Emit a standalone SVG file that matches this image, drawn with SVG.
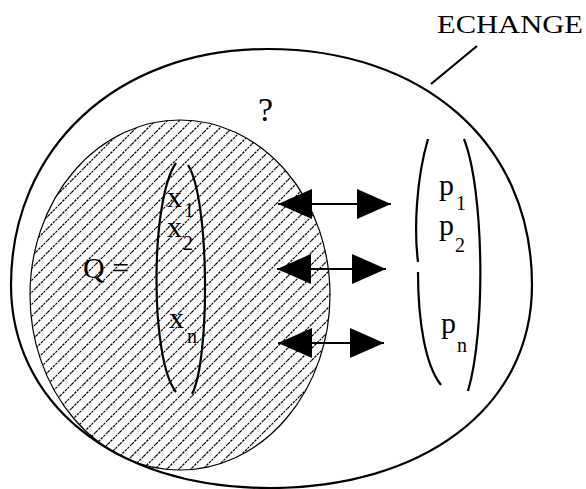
<svg xmlns="http://www.w3.org/2000/svg" width="586" height="489" viewBox="0 0 586 489">
<style>
.ln{fill:none;stroke:#000;stroke-width:2.2}
.t{font-family:"Liberation Serif","Times New Roman",serif;fill:#000}
.big{font-size:30px}
.sub{font-size:20px}
</style>
<defs>
<pattern id="hatch" patternUnits="userSpaceOnUse" width="12" height="12">
<path d="M-3,3 L3,-3 M0,12 L12,0 M9,15 L15,9" stroke="#000" stroke-width="1.2" stroke-dasharray="2.5 1"/>
</pattern>
<marker id="ah" viewBox="0 0 34 30" refX="34" refY="15" markerWidth="34" markerHeight="30" markerUnits="userSpaceOnUse" orient="auto-start-reverse">
<path d="M0,0 L34,15 L0,30 Z" fill="#000"/>
</marker>
</defs>
<g id="echange">
<path class="ln" d="M268,49 C420,49 532,140 532,285 C532,410 420,488 270,488 C110,488 11,400 11,285 C11,150 115,49 268,49 Z"/>
<line class="ln" x1="431" y1="84" x2="477" y2="46"/>
<text class="t" x="437" y="33" font-size="25" textLength="146" lengthAdjust="spacingAndGlyphs">ECHANGE</text>
<text class="t" x="258" y="121" font-size="34">?</text>
</g>
<g id="Q">
<ellipse cx="180" cy="295" rx="150" ry="175" fill="url(#hatch)" stroke="#000" stroke-width="1.2"/>
<path class="ln" d="M176,163 C150,200 150,360 176,392"/>
<path class="ln" d="M188,165 C210,200 210,360 192,394"/>
<text class="t big" x="83" y="278">Q =</text>
<text class="t big" x="167" y="207">x</text><text class="t sub" x="184" y="217">1</text>
<text class="t big" x="167" y="237">x</text><text class="t sub" x="183" y="250">2</text>
<text class="t big" x="169" y="328">x</text><text class="t sub" x="187" y="343">n</text>
</g>
<g id="P">
<path class="ln" d="M428,139 C416,180 414,230 418,262"/>
<path class="ln" d="M418,272 C418,320 425,365 441,385"/>
<path class="ln" d="M464,139 C484,190 486,330 468,391"/>
<text class="t big" x="439" y="195">p</text><text class="t sub" x="456" y="210">1</text>
<text class="t big" x="439" y="235">p</text><text class="t sub" x="455" y="252">2</text>
<text class="t big" x="441" y="333">p</text><text class="t sub" x="457" y="352">n</text>
</g>
<g id="connectors">
<line class="ln" x1="278" y1="204" x2="391" y2="204" marker-start="url(#ah)" marker-end="url(#ah)"/>
<line class="ln" x1="277" y1="269" x2="386" y2="269" marker-start="url(#ah)" marker-end="url(#ah)"/>
<line class="ln" x1="278" y1="343" x2="384" y2="343" marker-start="url(#ah)" marker-end="url(#ah)"/>
</g>
</svg>
